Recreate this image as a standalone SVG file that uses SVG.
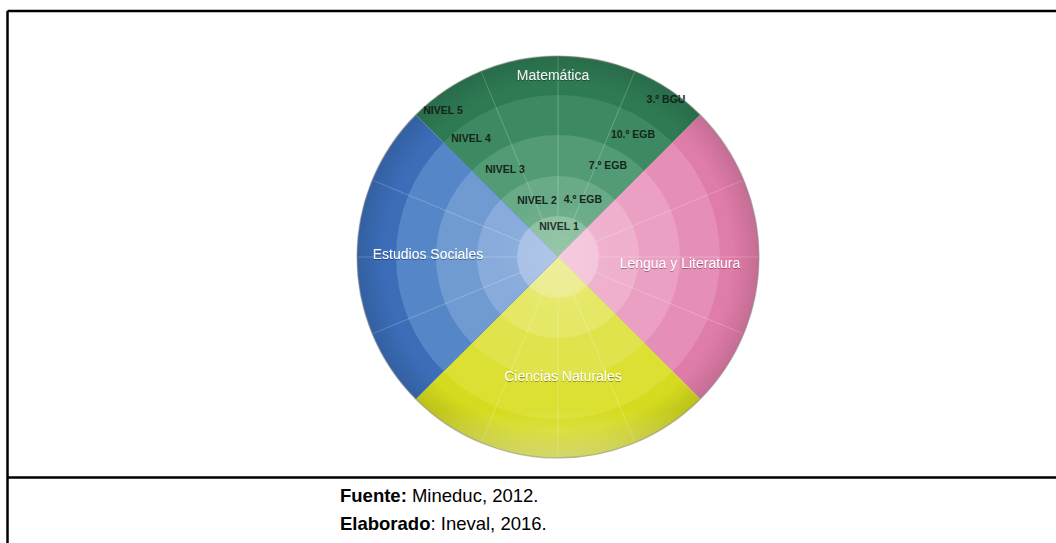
<svg xmlns="http://www.w3.org/2000/svg" width="1056" height="543" viewBox="0 0 1056 543">
  <style>
    .frame { stroke: #000; stroke-width: 2.5; fill: none; }
    .ray { stroke: #ffffff; stroke-opacity: 0.22; stroke-width: 1; }
    .subj { font-family: "Liberation Sans", Arial, sans-serif; font-size: 14px; fill: #ffffff; text-anchor: middle; }
    .lvl { font-family: "Liberation Sans", Arial, sans-serif; font-size: 10.5px; font-weight: bold; fill: #15261b; text-anchor: middle; }
    .foot { font-family: "Liberation Sans", Arial, sans-serif; font-size: 18.5px; fill: #000; }
  </style>
  <defs>
    <clipPath id="cTop"><path d="M558,257 L415.2,114.2 A202,202 0 0 1 700.8,114.2 Z"/></clipPath>
    <clipPath id="cRight"><path d="M558,257 L700.8,114.2 A202,202 0 0 1 700.8,399.8 Z"/></clipPath>
    <clipPath id="cBottom"><path d="M558,257 L700.8,399.8 A202,202 0 0 1 415.2,399.8 Z"/></clipPath>
    <clipPath id="cLeft"><path d="M558,257 L415.2,399.8 A202,202 0 0 1 415.2,114.2 Z"/></clipPath>
    <radialGradient id="edge" cx="558" cy="257" r="201" gradientUnits="userSpaceOnUse">
      <stop offset="0" stop-color="#ffffff" stop-opacity="0.12"/>
      <stop offset="0.3" stop-color="#ffffff" stop-opacity="0"/>
      <stop offset="0.86" stop-color="#000000" stop-opacity="0"/>
      <stop offset="1" stop-color="#000000" stop-opacity="0.12"/>
    </radialGradient>
    <linearGradient id="glow" x1="0" y1="0" x2="0" y2="1">
      <stop offset="0.88" stop-color="#ffffff" stop-opacity="0"/>
      <stop offset="1" stop-color="#ffffff" stop-opacity="0.35"/>
    </linearGradient>
    <filter id="sh" x="-10%" y="-30%" width="120%" height="160%">
      <feDropShadow dx="0" dy="1" stdDeviation="0.6" flood-color="#000" flood-opacity="0.35"/>
    </filter>
  </defs>

  <rect x="0" y="0" width="1056" height="543" fill="#ffffff"/>

  <g id="frame">
    <line class="frame" x1="7.5" y1="11" x2="1056" y2="11"/>
    <line class="frame" x1="7.5" y1="11" x2="7.5" y2="543"/>
    <line class="frame" x1="7.5" y1="477.5" x2="1056" y2="477.5"/>
  </g>

  <g id="matematica">
    <g clip-path="url(#cTop)">
      <circle cx="558" cy="257" r="201" fill="#2e7a53"/>
      <circle cx="558" cy="257" r="162" fill="#3d8a62"/>
      <circle cx="558" cy="257" r="122" fill="#529b74"/>
      <circle cx="558" cy="257" r="81" fill="#69ab87"/>
      <circle cx="558" cy="257" r="41" fill="#88bf9e"/>
    </g>
    <line class="ray" x1="558" y1="216" x2="558" y2="56"/>
    <line class="ray" x1="573.3" y1="220" x2="634.5" y2="72.2"/>
    <line class="ray" x1="542.7" y1="220" x2="481.5" y2="72.2"/>
    <text class="subj" x="553" y="79.5" font-size="14.5" filter="url(#sh)">Matemática</text>
    <text class="lvl" x="443" y="113.5">NIVEL 5</text>
    <text class="lvl" x="666" y="102.5">3.º BGU</text>
    <text class="lvl" x="471" y="141.5">NIVEL 4</text>
    <text class="lvl" x="633" y="137.5">10.º EGB</text>
    <text class="lvl" x="505" y="172.5">NIVEL 3</text>
    <text class="lvl" x="608" y="168.5">7.º EGB</text>
    <text class="lvl" x="537" y="203.5">NIVEL 2</text>
    <text class="lvl" x="583" y="202.5">4.º EGB</text>
    <text class="lvl" x="559" y="229.5">NIVEL 1</text>
  </g>

  <g id="lengua">
    <g clip-path="url(#cRight)">
      <circle cx="558" cy="257" r="201" fill="#e07ca9"/>
      <circle cx="558" cy="257" r="162" fill="#e58fb8"/>
      <circle cx="558" cy="257" r="122" fill="#ea9fc3"/>
      <circle cx="558" cy="257" r="81" fill="#efb0cd"/>
      <circle cx="558" cy="257" r="41" fill="#f3c4db"/>
    </g>
    <line class="ray" x1="599" y1="257" x2="759" y2="257"/>
    <line class="ray" x1="595" y1="272.3" x2="742.8" y2="333.5"/>
    <line class="ray" x1="595" y1="241.7" x2="742.8" y2="180.5"/>
    <text class="subj" x="680" y="268" filter="url(#sh)">Lengua y Literatura</text>
  </g>

  <g id="ciencias">
    <g clip-path="url(#cBottom)">
      <circle cx="558" cy="257" r="201" fill="#d5db1e"/>
      <circle cx="558" cy="257" r="162" fill="#dbe033"/>
      <circle cx="558" cy="257" r="122" fill="#e0e34c"/>
      <circle cx="558" cy="257" r="81" fill="#e5e866"/>
      <circle cx="558" cy="257" r="41" fill="#ebec8e"/>
    </g>
    <line class="ray" x1="558" y1="298" x2="558" y2="458"/>
    <line class="ray" x1="573.3" y1="294" x2="634.5" y2="441.8"/>
    <line class="ray" x1="542.7" y1="294" x2="481.5" y2="441.8"/>
    <text class="subj" x="563" y="381" filter="url(#sh)">Ciencias Naturales</text>
  </g>

  <g id="sociales">
    <g clip-path="url(#cLeft)">
      <circle cx="558" cy="257" r="201" fill="#3b6db8"/>
      <circle cx="558" cy="257" r="162" fill="#5586c7"/>
      <circle cx="558" cy="257" r="122" fill="#6f9bd2"/>
      <circle cx="558" cy="257" r="81" fill="#88abdc"/>
      <circle cx="558" cy="257" r="41" fill="#a6bfe6"/>
    </g>
    <line class="ray" x1="517" y1="257" x2="357" y2="257"/>
    <line class="ray" x1="521" y1="272.3" x2="373.2" y2="333.5"/>
    <line class="ray" x1="521" y1="241.7" x2="373.2" y2="180.5"/>
    <text class="subj" x="428" y="259" filter="url(#sh)">Estudios Sociales</text>
  </g>

  <g id="shading">
    <circle cx="558" cy="257" r="201" fill="url(#edge)"/>
    <circle cx="558" cy="257" r="201" fill="url(#glow)"/>
    <circle cx="558" cy="257" r="201" fill="none" stroke="#8a8a8a" stroke-opacity="0.45" stroke-width="1.5"/>
  </g>

  <g id="caption">
    <text class="foot" x="340" y="502"><tspan font-weight="bold">Fuente:</tspan> Mineduc, 2012.</text>
    <text class="foot" x="340" y="530"><tspan font-weight="bold">Elaborado</tspan>: Ineval, 2016.</text>
  </g>
</svg>
